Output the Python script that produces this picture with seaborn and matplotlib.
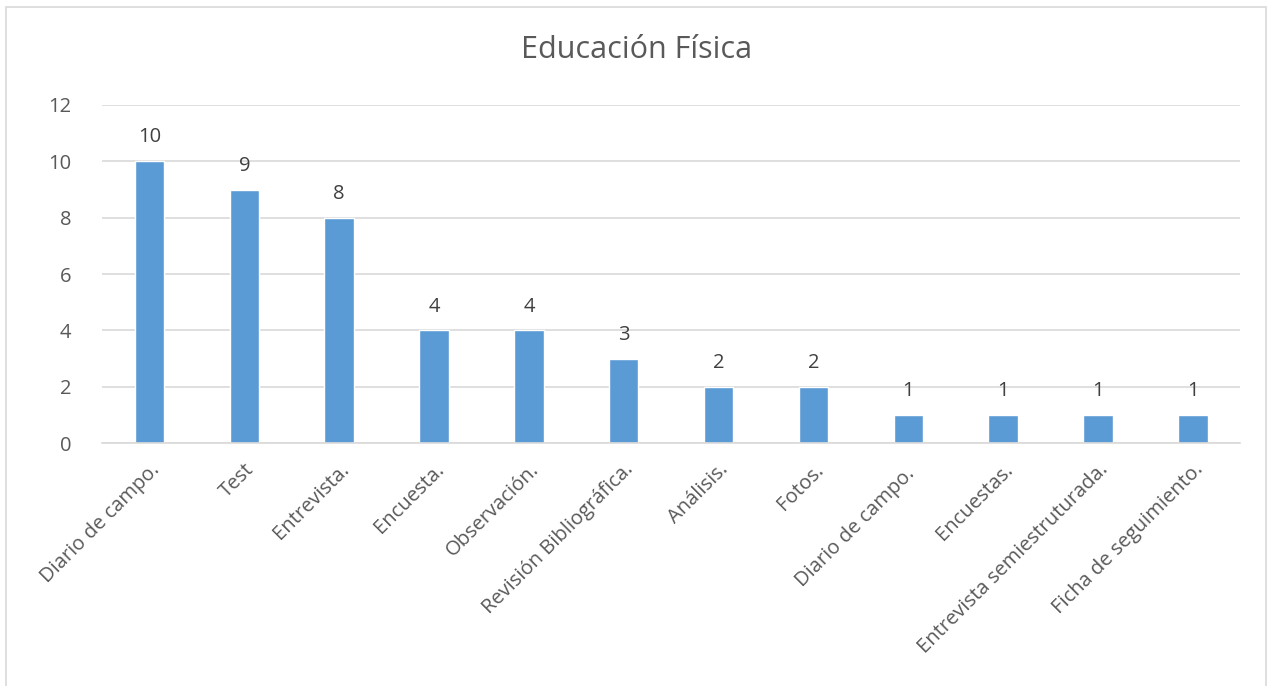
import matplotlib
matplotlib.use('agg')
import seaborn as sns
import matplotlib.pyplot as plt
from matplotlib.patches import Rectangle
import pandas as pd

categorias = ['Diario de campo.', 'Test', 'Entrevista.', 'Encuesta.', 'Observación.',
              'Revisión Bibliográfica.', 'Análisis.', 'Fotos.', 'Diario de campo. ',
              'Encuestas.', 'Entrevista semiestruturada.', 'Ficha de seguimiento.']
valores = [10, 9, 8, 4, 4, 3, 2, 2, 1, 1, 1, 1]
titulo = 'Educación Física'

sns.set_theme(style='white')
plt.rcParams['font.family'] = ['Open Sans', 'DejaVu Sans']

df = pd.DataFrame({'cat': categorias, 'val': valores})

fig = plt.figure(figsize=(12.69, 6.86), dpi=100)
ax = fig.add_axes([0.0804, 0.354, 0.897, 0.493])

sns.barplot(data=df, x='cat', y='val', color='#5B9BD5', width=0.31,
            saturation=1, ax=ax, order=categorias)

ax.set_ylim(0, 12)
ax.set_yticks(range(0, 13, 2))
ax.yaxis.grid(True, color='#D9D9D9', linewidth=1.2)
ax.set_axisbelow(True)
for s in ['top', 'right', 'left']:
    ax.spines[s].set_visible(False)
ax.spines['bottom'].set_color('#D9D9D9')
ax.spines['bottom'].set_linewidth(1.2)
ax.set_xlabel('')
ax.set_ylabel('')
ax.tick_params(axis='both', length=0, colors='#595959', labelsize=14.5)
ax.tick_params(axis='y', pad=22)
ax.set_xticks(range(len(categorias)))
ax.set_xticklabels(categorias, rotation=45, ha='right', rotation_mode='anchor')
ax.tick_params(axis='x', pad=12)

for c in ax.containers:
    ax.bar_label(c, labels=[str(v) for v in valores], padding=10,
                 color='#404040', fontsize=14.5)

fig.text(0.502, 0.927, titulo, ha='center', va='center', fontsize=22, color='#595959')

fig.patches.append(Rectangle((0.005, -0.01), 0.993, 1.0, transform=fig.transFigure,
                             fill=False, edgecolor='#D9D9D9', linewidth=1.2))

fig.savefig('out.png', dpi=100)
